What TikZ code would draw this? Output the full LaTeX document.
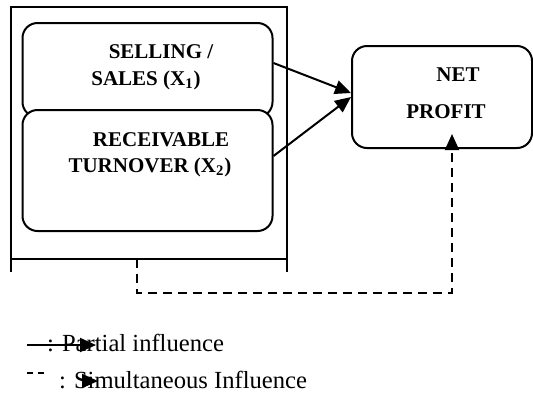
\documentclass[tikz,border=0pt]{standalone}
\usepackage{fontspec}
\setmainfont{Liberation Serif}
\usetikzlibrary{arrows.meta}
\begin{document}
\begin{tikzpicture}[x=0.5pt,y=-0.5pt,
  line width=1pt,
  box/.style={draw,rounded corners=7.5pt,fill=white,inner sep=0pt},
  lbl/.style={font=\fontsize{10.5}{12}\selectfont\bfseries,inner sep=0pt},
  leg/.style={font=\fontsize{12.3}{14}\selectfont,inner sep=0pt,anchor=base west},
  arr/.style={-{Triangle[length=8pt,width=7pt]}},
  dsh/.style={dash pattern=on 4.5pt off 3pt}]
\useasboundingbox (0,0) rectangle (533,398);
% outer frame
\coordinate (fbl) at (11,272);
\coordinate (ftl) at (11,7);
\coordinate (ftr) at (287,7);
\coordinate (fbr) at (287,272);
\coordinate (hl) at (11,259);
\coordinate (hr) at (287,259);
\coordinate (fb) at (137,259);
\draw[line width=1.2pt] (fbl) -- (ftl) -- (ftr) -- (fbr);
\draw (hl) -- (hr);
% boxes
\node[box,minimum width=125pt,minimum height=47pt] (sell) at (147.5,70) {};
\node[box,minimum width=125pt,minimum height=60.5pt] (rec) at (147.5,170.5) {};
\node[box,minimum width=90pt,minimum height=51pt] (np) at (442,97) {};
% texts
\node[lbl] (t1) at (161,52) {SELLING /};
\node[lbl] (t2) at (146,80) {SALES (X\textsubscript{1})};
\node[lbl] (t3) at (161,140) {RECEIVABLE};
\node[lbl] (t4) at (150,167) {TURNOVER (X\textsubscript{2})};
\node[lbl] (t5) at (458,75) {NET};
\node[lbl] (t6) at (446,112) {PROFIT};
% arrows
\draw[arr] ([yshift=3.5pt]sell.east) -- ([yshift=2pt]np.west);
\draw[arr] ([yshift=7.25pt]rec.east) -- (np.west);
\coordinate (d1) at (137,293);
\coordinate (d2) at (452,293);
\draw[dsh,arr] (fb) -- (d1) -- (d2) -- ([xshift=5pt,yshift=7.5pt]np.south);
% legend
\node[leg] (l1) at (46,351) {: Partial influence};
\node[leg] (l2) at (58,388) {: Simultaneous Influence};
\coordinate (a1) at (27,345);
\coordinate (a2) at (96,345);
\draw[arr] (a1) -- (a2);
\coordinate (b1) at (27,373);
\coordinate (b2) at (46,373);
\draw[dash pattern=on 3pt off 2.5pt] (b1) -- (b2);
\coordinate (c1) at (82,381);
\coordinate (c2) at (98,381);
\draw[arr] (c1) -- (c2);
\end{tikzpicture}
\end{document}
